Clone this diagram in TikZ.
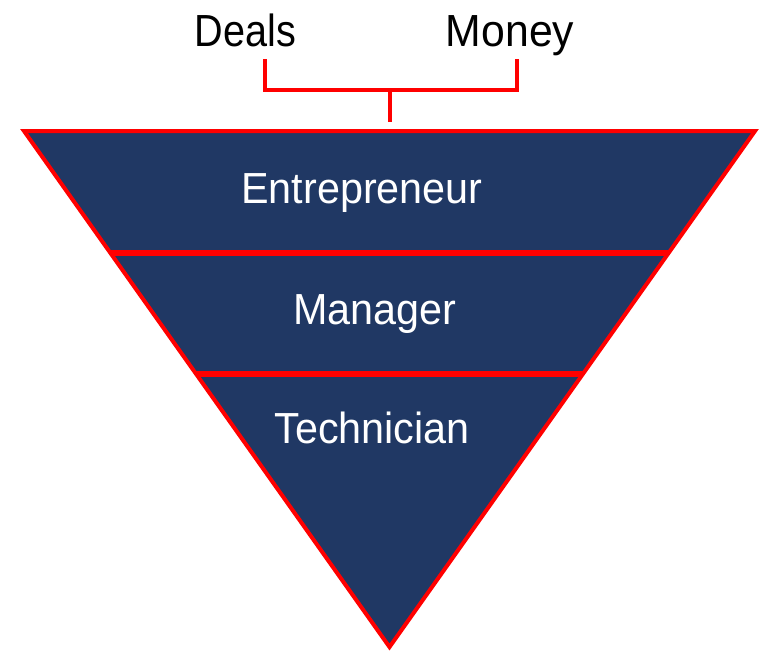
\documentclass[tikz,border=0pt]{standalone}
\usepackage{fontspec}
\newfontfamily\narrowfont{Liberation Sans}[FakeStretch=0.88]
\newfontfamily\layerfont{Liberation Sans}[FakeStretch=0.95]
\newfontfamily\moneyfont{Liberation Sans}[FakeStretch=0.95]
\definecolor{navy}{RGB}{32,56,100}
\definecolor{brightred}{RGB}{255,0,0}
\begin{document}
\begin{tikzpicture}[x=1pt,y=-1pt,
  toplabel/.style={anchor=base,inner sep=0pt,font=\narrowfont\fontsize{45pt}{45pt}\selectfont,text=black},
  layerlabel/.style={anchor=base,inner sep=0pt,font=\layerfont\fontsize{43.5pt}{43.5pt}\selectfont,text=white},
  bracketline/.style={draw=brightred,line width=3.5pt},
  divider/.style={draw=brightred,line width=6pt},
  funnel/.style={fill=navy,draw=brightred,line width=4pt,line join=miter}]
\useasboundingbox (0,0) rectangle (759,653);
% funnel
\coordinate (tl) at (24,131);
\coordinate (tr) at (755,131);
\coordinate (bt) at (389.5,647);
\draw[funnel] (tl) -- (tr) -- (bt) -- cycle;
% dividers
\coordinate (d1l) at (intersection of tl--bt and 0,253--759,253);
\coordinate (d1r) at (intersection of tr--bt and 0,253--759,253);
\coordinate (d2l) at (intersection of tl--bt and 0,374--759,374);
\coordinate (d2r) at (intersection of tr--bt and 0,374--759,374);
\draw[divider] (d1l) -- (d1r);
\draw[divider] (d2l) -- (d2r);
% labels
\node[toplabel] (deals) at (245.5,46) {Deals};
\node[toplabel,font=\moneyfont\fontsize{45pt}{45pt}\selectfont] (money) at (510,46) {Money};
\node[layerlabel] (entre) at (362,203) {Entrepreneur};
\node[layerlabel] (manager) at (375,324) {Manager};
\node[layerlabel] (tech) at (372,443) {Technician};
% bracket
\coordinate (dtop) at (265,59);
\coordinate (dbot) at (265,90);
\coordinate (mtop) at (517,59);
\coordinate (mbot) at (517,90);
\coordinate (bmid) at (390,90);
\coordinate (ftop) at (390,122);
\draw[bracketline,line join=miter] (dtop) -- (dbot) -- (mbot) -- (mtop);
\draw[bracketline] (bmid) -- (ftop);
\end{tikzpicture}
\end{document}
